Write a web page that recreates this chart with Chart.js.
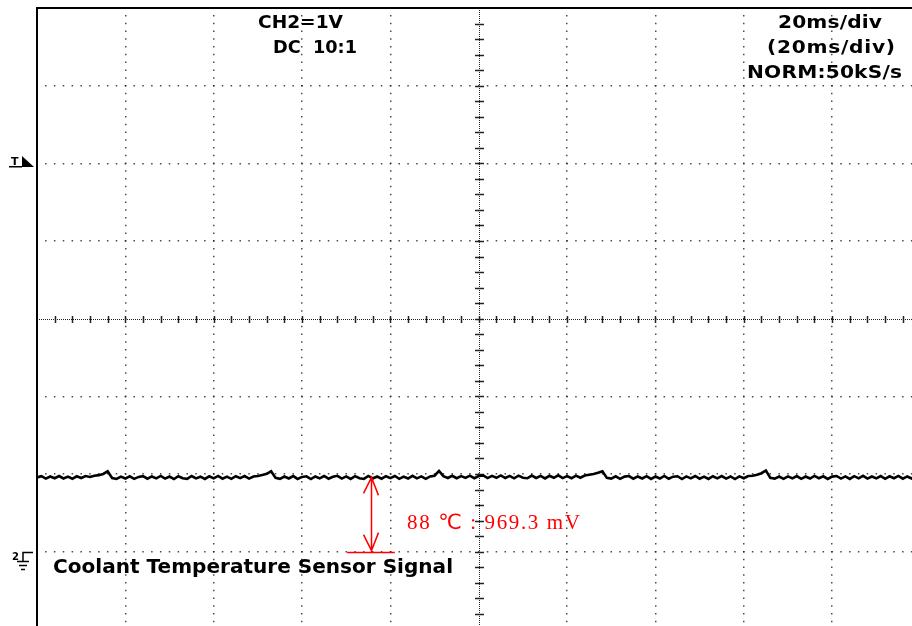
<!DOCTYPE html>
<html>
<head>
<meta charset="utf-8">
<script src="https://cdn.jsdelivr.net/npm/chart.js@4.4.1/dist/chart.umd.min.js"></script>
<style>
  html, body { margin: 0; padding: 0; background: #fff; overflow: hidden; width: 912px; height: 626px; }
  #scope { position: absolute; left: 0; top: 0; }
</style>
</head>
<body>
<canvas id="scope" width="940" height="650"></canvas>
<script>
// Channel 2 record, one sample per millisecond across ten 20 ms divisions (volts, ground = 0)
const sampleIntervalMs = 1;
const voltages = [
  0.955, 0.972, 0.940, 0.968, 0.945, 0.974, 0.942, 0.966, 0.938, 0.970,
  0.948, 0.973, 0.962, 0.978, 0.985, 1.000, 1.035, 0.948, 0.936, 0.966,
  0.941, 0.970, 0.937, 0.962, 0.972, 0.939, 0.968, 0.944, 0.975, 0.940,
  0.967, 0.935, 0.971, 0.946, 0.938, 0.974, 0.943, 0.965, 0.936, 0.970,
  0.944, 0.975, 0.939, 0.966, 0.937, 0.971, 0.947, 0.973, 0.941, 0.968,
  0.975, 0.988, 1.002, 1.035, 0.950, 0.938, 0.967, 0.942, 0.973, 0.936,
  0.962, 0.970, 0.935, 0.968, 0.943, 0.974, 0.939, 0.965, 0.976, 0.941,
  0.969, 0.937, 0.972, 0.945, 0.936, 0.975, 0.942, 0.967, 0.939, 0.971,
  0.946, 0.974, 0.937, 0.966, 0.941, 0.976, 0.944, 0.969, 0.938, 0.968,
  0.978, 1.040, 0.972, 0.948, 0.977, 0.945, 0.973, 0.950, 0.979, 0.946,
  0.974, 0.981, 0.947, 0.976, 0.951, 0.982, 0.948, 0.975, 0.944, 0.978,
  0.952, 0.945, 0.980, 0.949, 0.975, 0.943, 0.977, 0.951, 0.982, 0.947,
  0.973, 0.945, 0.979, 0.952, 0.980, 0.990, 1.000, 1.015, 1.035, 0.950,
  0.940, 0.970, 0.937, 0.966, 0.973, 0.939, 0.968, 0.942, 0.972, 0.936,
  0.967, 0.941, 0.975, 0.938, 0.965, 0.971, 0.935, 0.969, 0.944, 0.974,
  0.939, 0.966, 0.936, 0.971, 0.943, 0.973, 0.940, 0.968, 0.935, 0.969,
  0.945, 0.974, 0.978, 0.990, 1.010, 1.045, 0.950, 0.940, 0.967, 0.937,
  0.969, 0.943, 0.973, 0.938, 0.967, 0.941, 0.975, 0.945, 0.970, 0.936,
  0.966, 0.974, 0.941, 0.969, 0.937, 0.972, 0.944, 0.976, 0.940, 0.967,
  0.943, 0.973, 0.938, 0.970, 0.945, 0.975, 0.939, 0.968, 0.942, 0.971, 0.955
];

// Graticule divisions: time (ms) and channel 2 volts
const timeDivisions = [0, 20, 40, 60, 80, 100, 120, 140, 160, 180, 200];
const voltDivisions = [-1, 0, 1, 2, 3, 4, 5, 6, 7];
const centerTime = 100;
const centerVolt = 3;
const minorPerDivision = 5;

// Readout text
const headerLeft = ['CH2=1V', 'DC  10:1'];
const headerRight = ['20ms/div', '(20ms/div)', 'NORM:50kS/s'];
const signalName = 'Coolant Temperature Sensor Signal';
const groundLabel = '2';
const triggerLabel = 'T';
const triggerLevel = 5;

// Cursor measurement: 88 °C reads 969.3 mV above ground
const cursorTime = 75.6;
const cursorBar = [70.2, 81.0];
const measuredVolts = 0.9693;
const measureLabel = '88 \u2103 : 969.3 mV';

const points = voltages.map((v, i) => ({ x: i * sampleIntervalMs, y: v }));

// Draw a string so it spans w pixels: widen the glyphs a little, then space them
function fitText(ctx, str, x, y, w, maxStretch) {
  ctx.letterSpacing = '0px';
  const m = ctx.measureText(str).width;
  const s = Math.max(0.85, Math.min(w / m, maxStretch));
  const sp = (w / s - m) / (str.length - 1);
  ctx.save();
  ctx.translate(x, y);
  ctx.scale(s, 1);
  ctx.letterSpacing = sp + 'px';
  ctx.textAlign = 'left';
  ctx.fillText(str, 0, 0);
  ctx.restore();
}

const graticule = {
  id: 'graticule',
  beforeDatasetsDraw(chart) {
    const { ctx, chartArea: a, scales: { x, y } } = chart;
    const cx = Math.round(x.getPixelForValue(centerTime)) + 0.5;
    const cy = Math.round(y.getPixelForValue(centerVolt)) + 0.5;
    ctx.save();
    ctx.strokeStyle = '#222';
    ctx.lineWidth = 1;
    ctx.setLineDash([1, 1]);
    ctx.beginPath();
    ctx.moveTo(a.left, cy); ctx.lineTo(a.right, cy);
    ctx.moveTo(cx, a.top); ctx.lineTo(cx, a.bottom);
    ctx.stroke();
    ctx.setLineDash([]);
    ctx.lineWidth = 1.5;
    ctx.beginPath();
    const tStep = (timeDivisions[1] - timeDivisions[0]) / minorPerDivision;
    for (let t = timeDivisions[0]; t <= timeDivisions[timeDivisions.length - 1]; t += tStep) {
      const px = Math.round(x.getPixelForValue(t)) + 0.5;
      if (px <= a.left + 2) continue;
      ctx.moveTo(px, cy - 3.5); ctx.lineTo(px, cy + 3.5);
    }
    const vStep = (voltDivisions[1] - voltDivisions[0]) / minorPerDivision;
    for (let v = voltDivisions[0]; v <= voltDivisions[voltDivisions.length - 1] + 1e-9; v += vStep) {
      const py = Math.round(y.getPixelForValue(v)) + 0.5;
      if (py <= a.top + 2) continue;
      ctx.moveTo(cx - 4.5, py); ctx.lineTo(cx + 4.5, py);
    }
    ctx.stroke();
    ctx.restore();
  },
  afterDraw(chart) {
    const { ctx, chartArea: a, scales: { x, y } } = chart;
    ctx.save();
    // frame
    ctx.strokeStyle = '#000';
    ctx.lineWidth = 2;
    ctx.beginPath();
    ctx.moveTo(a.left, a.bottom); ctx.lineTo(a.left, a.top); ctx.lineTo(a.right, a.top);
    ctx.stroke();

    // readouts
    ctx.fillStyle = '#000';
    ctx.textBaseline = 'alphabetic';
    ctx.font = 'bold 18px "DejaVu Sans"';
    fitText(ctx, headerLeft[0], 258, 28, 85, 1.12);
    fitText(ctx, headerLeft[1], 273, 53, 84, 1.12);
    fitText(ctx, headerRight[0], 778, 28, 104, 1.12);
    fitText(ctx, headerRight[1], 767, 53, 128, 1.12);
    fitText(ctx, headerRight[2], 747, 78, 155, 1.12);
    ctx.font = 'bold 19px "DejaVu Sans"';
    fitText(ctx, signalName, 53, 573, 400, 1.08);

    // trigger marker
    const ty = Math.round(y.getPixelForValue(triggerLevel));
    ctx.font = 'bold 11px "DejaVu Sans"';
    ctx.textAlign = 'left';
    ctx.fillText(triggerLabel, 11, ty + 2);
    ctx.fillRect(9, ty + 3, 13, 1.5);
    ctx.beginPath();
    ctx.moveTo(22, ty - 7); ctx.lineTo(34, ty + 4); ctx.lineTo(22, ty + 4); ctx.closePath();
    ctx.fill();

    // ground marker
    const gy = Math.round(y.getPixelForValue(0)) + 0.5;
    ctx.font = 'bold 10px "DejaVu Sans"';
    ctx.fillText(groundLabel, 12, gy + 7);
    ctx.lineWidth = 1.5;
    ctx.beginPath();
    ctx.moveTo(33, gy); ctx.lineTo(23, gy); ctx.lineTo(23, gy + 9);
    ctx.moveTo(17, gy + 9); ctx.lineTo(29, gy + 9);
    ctx.moveTo(19, gy + 13); ctx.lineTo(27, gy + 13);
    ctx.moveTo(21, gy + 17); ctx.lineTo(25, gy + 17);
    ctx.stroke();

    // cursor arrow from ground to the measured level
    const sx = Math.round(x.getPixelForValue(cursorTime)) + 0.5;
    const y0 = y.getPixelForValue(0);
    const y1 = y.getPixelForValue(measuredVolts);
    ctx.strokeStyle = '#ff0000';
    ctx.lineWidth = 1.5;
    ctx.beginPath();
    ctx.moveTo(sx, y1); ctx.lineTo(sx, y0);
    ctx.moveTo(sx - 8, y1 + 17); ctx.lineTo(sx, y1 + 1); ctx.lineTo(sx + 7, y1 + 19);
    ctx.moveTo(sx - 8, y0 - 17); ctx.lineTo(sx, y0 - 1); ctx.lineTo(sx + 7, y0 - 19);
    ctx.moveTo(x.getPixelForValue(cursorBar[0]), gy); ctx.lineTo(x.getPixelForValue(cursorBar[1]), gy);
    ctx.stroke();
    ctx.fillStyle = '#ff0000';
    ctx.font = '21px "Liberation Serif", "DejaVu Sans"';
    fitText(ctx, measureLabel, 407, 529, 173, 1.0);
    ctx.restore();
  }
};

const xDash = 883.5 / 100;
const yDash = 621.3 / 80;
const hideEdges = (edges) => (c) => (c.tick && edges.includes(c.tick.value)) ? 'rgba(0,0,0,0)' : 'rgba(30,30,30,0.8)';

new Chart(document.getElementById('scope'), {
  type: 'line',
  data: {
    datasets: [{
      data: points,
      borderColor: '#000',
      borderWidth: 2.6,
      pointRadius: 0,
      tension: 0,
      fill: false
    }]
  },
  options: {
    responsive: false,
    animation: false,
    devicePixelRatio: 1,
    layout: { autoPadding: false, padding: { left: 37, top: 8, right: 19.5, bottom: 20.7 } },
    plugins: { legend: { display: false }, tooltip: { enabled: false } },
    scales: {
      x: {
        type: 'linear',
        min: timeDivisions[0],
        max: timeDivisions[timeDivisions.length - 1],
        afterBuildTicks: (s) => { s.ticks = timeDivisions.map(v => ({ value: v })); },
        ticks: { display: false },
        grid: { drawTicks: false, lineWidth: 1.5, color: hideEdges([timeDivisions[0], centerTime]) },
        border: { display: false, dash: [1.5, yDash - 1.5], dashOffset: 0.75 }
      },
      y: {
        type: 'linear',
        min: voltDivisions[0],
        max: voltDivisions[voltDivisions.length - 1],
        afterBuildTicks: (s) => { s.ticks = voltDivisions.map(v => ({ value: v })); },
        ticks: { display: false },
        grid: { drawTicks: false, lineWidth: 1.5, color: hideEdges([voltDivisions[voltDivisions.length - 1], centerVolt]) },
        border: { display: false, dash: [1.5, xDash - 1.5], dashOffset: 0.75 }
      }
    }
  },
  plugins: [graticule]
});
</script>
</body>
</html>
